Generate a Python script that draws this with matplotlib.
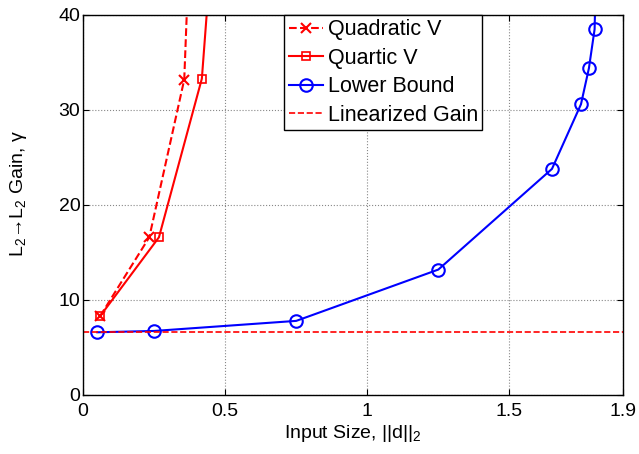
import numpy as np
import matplotlib
matplotlib.use("Agg")
import matplotlib.pyplot as plt

plt.rcParams['font.family'] = ['Liberation Sans', 'DejaVu Sans']
plt.rcParams['mathtext.fontset'] = 'custom'
plt.rcParams['mathtext.rm'] = 'Liberation Sans'
plt.rcParams['mathtext.it'] = 'Liberation Sans'

# data
quad_x = [0.06, 0.233, 0.356, 0.375]
quad_y = [8.3, 16.6, 33.2, 48.0]
quart_x = [0.06, 0.267, 0.418, 0.46]
quart_y = [8.3, 16.6, 33.3, 50.0]
lower_x = [0.05, 0.25, 0.75, 1.25, 1.65, 1.752, 1.78, 1.80, 1.805]
lower_y = [6.6, 6.74, 7.8, 13.2, 23.8, 30.6, 34.4, 38.5, 45.0]
lin_gain = 6.6

xticks = [0, 0.5, 1, 1.5, 1.9]
xticklabels = ['0', '0.5', '1', '1.5', '1.9']
yticks = [0, 10, 20, 30, 40]

fig = plt.figure(figsize=(6.39, 4.54), dpi=100)
ax = fig.add_axes([0.130, 0.130, 0.845, 0.837])

ax.plot(quad_x, quad_y, 'r--', marker='x', markersize=7, mew=1.5, lw=1.5, label='Quadratic V')
ax.plot(quart_x, quart_y, 'r-', marker='s', markersize=6, mfc='none', mew=1.2, lw=1.5, label='Quartic V')
ax.plot(lower_x, lower_y, 'b-', marker='o', markersize=9, mfc='none', mew=1.5, lw=1.5, label='Lower Bound')
ax.axhline(lin_gain, color='r', ls='--', lw=1.2, label='Linearized Gain')

ax.set_xlim(0, 1.9)
ax.set_ylim(0, 40)
ax.set_xticks(xticks)
ax.set_xticklabels(xticklabels)
ax.set_yticks(yticks)
ax.tick_params(direction='in', labelsize=14, length=4, top=True, right=True)
ax.tick_params(axis='x', pad=6)
ax.tick_params(axis='y', pad=2)
ax.grid(True, ls=':', color='#888888', lw=0.8)
for s in ax.spines.values():
    s.set_linewidth(1.0)

ax.set_xlabel(r'Input Size, $||$d$||_2$', fontsize=14)
ax.set_ylabel(r'L$_2$→L$_2$ Gain, γ', fontsize=14)
ax.xaxis.set_label_coords(0.5, -0.075)
ax.yaxis.set_label_coords(-0.100, 0.53)

leg = ax.legend(loc='upper center', bbox_to_anchor=(0.556, 1.0), borderaxespad=0,
                fontsize=15.5, fancybox=False, edgecolor='black', framealpha=1,
                handlelength=1.6, handletextpad=0.2, labelspacing=0.35, borderpad=0.2)
leg.get_frame().set_linewidth(1.0)

fig.savefig('out.png', dpi=100)
